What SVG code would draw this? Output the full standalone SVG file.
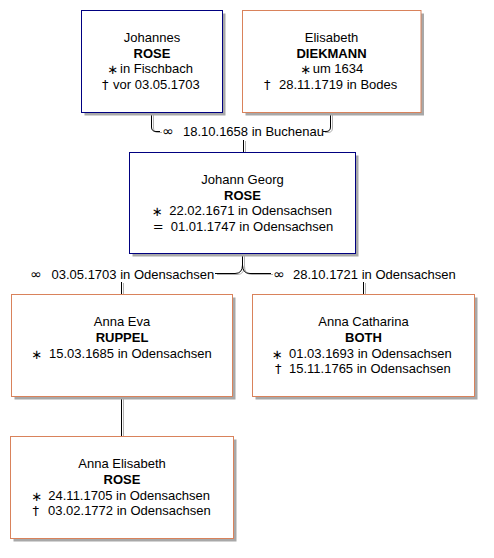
<svg xmlns="http://www.w3.org/2000/svg" width="494" height="558" viewBox="0 0 494 558">
<style>
text{font-family:"Liberation Sans",Arial,sans-serif;font-size:13px;fill:#000}
.c{text-anchor:middle}
.b{font-weight:bold}
.sym{text-anchor:middle;font-family:"DejaVu Sans",sans-serif;font-size:13px}
.shadow{fill:#a8a8a8}
.m{fill:#fff;stroke:#000080;stroke-width:1}
.f{fill:#fff;stroke:#d9825b;stroke-width:1}
.ln{fill:none;stroke:#000;stroke-width:1}
.lns{fill:none;stroke:#b0b0b0;stroke-width:1}
.ring{text-anchor:middle;font-family:"DejaVu Sans",sans-serif;font-size:14px}
</style>
<rect width="494" height="558" fill="#fff"/>
<g id="connectors">
  <g transform="translate(2,1)">
    <path class="lns" d="M151.5 112.5V127Q151.5 131.5 156 131.5H160"/>
    <path class="lns" d="M330.5 112.5V127Q330.5 131.5 326 131.5H323"/>
    <path class="lns" d="M243.5 140V152.5"/>
    <path class="lns" d="M242.5 254V265Q242.5 273.5 235 273.5H215M242.5 265Q242.5 273.5 250 273.5H271"/>
    <path class="lns" d="M121.5 282V294.5M363.5 282V294.5M121.5 396.5V436.5"/>
  </g>
  <path class="ln" d="M151.5 112.5V127Q151.5 131.5 156 131.5H160"/>
  <path class="ln" d="M330.5 112.5V127Q330.5 131.5 326 131.5H323"/>
  <path class="ln" d="M243.5 140V152.5"/>
  <path class="ln" d="M242.5 254V265Q242.5 273.5 235 273.5H215M242.5 265Q242.5 273.5 250 273.5H271"/>
  <path class="ln" d="M121.5 282V294.5M363.5 282V294.5M121.5 396.5V436.5"/>
  <text class="ring" x="168" y="136">∞</text>
  <text x="183" y="136">18.10.1658 in Buchenau</text>
  <text class="ring" x="36" y="278.5">∞</text>
  <text x="51.5" y="278.5">03.05.1703 in Odensachsen</text>
  <text class="ring" x="279" y="278.5">∞</text>
  <text x="293" y="278.5">28.10.1721 in Odensachsen</text>
</g>
<g id="johannes">
  <rect class="shadow" x="84.5" y="13.5" width="141" height="102"/>
  <rect class="m" x="81.5" y="10.5" width="141" height="102"/>
  <text class="c" x="152" y="42">Johannes</text>
  <text class="c b" x="152" y="57.5">ROSE</text>
  <text class="sym" x="112.7" y="74">∗</text><text x="120" y="73">in Fischbach</text>
  <text class="sym" x="105.3" y="88.5">†</text><text x="113" y="88.5">vor 03.05.1703</text>
</g>
<g id="elisabeth">
  <rect class="shadow" x="245.5" y="13.5" width="178.5" height="102"/>
  <rect class="f" x="242.5" y="10.5" width="178.5" height="102"/>
  <text class="c" x="331.5" y="42">Elisabeth</text>
  <text class="c b" x="331.5" y="57.5">DIEKMANN</text>
  <text class="sym" x="305.7" y="74">∗</text><text x="312.7" y="73">um 1634</text>
  <text class="sym" x="267.3" y="88.5">†</text><text x="279" y="88.5">28.11.1719 in Bodes</text>
</g>
<g id="johann-georg">
  <rect class="shadow" x="132.5" y="155.5" width="226" height="101"/>
  <rect class="m" x="129.5" y="152.5" width="226" height="101"/>
  <text class="c" x="242.5" y="183.5">Johann Georg</text>
  <text class="c b" x="242.5" y="199.5">ROSE</text>
  <text class="sym" x="157.3" y="216">∗</text><text x="169.3" y="215">22.02.1671 in Odensachsen</text>
  <text class="sym" x="158.3" y="230.5">=</text><text x="170.7" y="230.5">01.01.1747 in Odensachsen</text>
</g>
<g id="anna-eva">
  <rect class="shadow" x="14.5" y="297.5" width="221" height="102"/>
  <rect class="f" x="11.5" y="294.5" width="221" height="102"/>
  <text class="c" x="122" y="326">Anna Eva</text>
  <text class="c b" x="122" y="341.5">RUPPEL</text>
  <text class="sym" x="36.7" y="358.5">∗</text><text x="49" y="357.5">15.03.1685 in Odensachsen</text>
</g>
<g id="anna-catharina">
  <rect class="shadow" x="255.5" y="297.5" width="222" height="102"/>
  <rect class="f" x="252.5" y="294.5" width="222" height="102"/>
  <text class="c" x="363.5" y="326">Anna Catharina</text>
  <text class="c b" x="363.5" y="341.5">BOTH</text>
  <text class="sym" x="277.3" y="358.5">∗</text><text x="289" y="357.5">01.03.1693 in Odensachsen</text>
  <text class="sym" x="278.3" y="373">†</text><text x="289" y="373">15.11.1765 in Odensachsen</text>
</g>
<g id="anna-elisabeth">
  <rect class="shadow" x="13.5" y="439.5" width="223" height="102"/>
  <rect class="f" x="10.5" y="436.5" width="223" height="102"/>
  <text class="c" x="122" y="467.5">Anna Elisabeth</text>
  <text class="c b" x="122" y="483.5">ROSE</text>
  <text class="sym" x="36.7" y="500.5">∗</text><text x="48.3" y="499.5">24.11.1705 in Odensachsen</text>
  <text class="sym" x="35.7" y="514.5">†</text><text x="48" y="514.5">03.02.1772 in Odensachsen</text>
</g>
</svg>
